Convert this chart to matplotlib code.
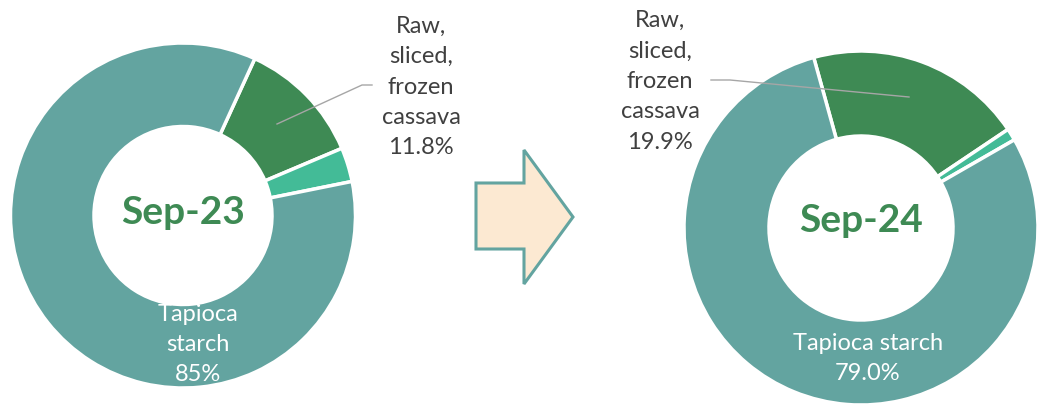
import matplotlib.pyplot as plt
from matplotlib.patches import Polygon

# data
categories = ["Raw, sliced, frozen cassava", "Other", "Tapioca starch"]
share_sep23 = [11.8, 3.2, 85.0]
share_sep24 = [19.9, 1.1, 79.0]
period_labels = ["Sep-23", "Sep-24"]

colors = ["#3E8A54", "#43BB97", "#63A4A0"]
W, H = 1038, 405

plt.rcParams['font.family'] = ['Lato', 'DejaVu Sans']

fig = plt.figure(figsize=(W / 100, H / 100), dpi=100)
ax = fig.add_axes([0, 0, 1, 1])


def donut(values, center, radius, width, start):
    ax.pie(values, colors=colors, center=center, radius=radius,
           startangle=start, counterclock=False,
           wedgeprops=dict(width=width, edgecolor="white", linewidth=2.5))


# left donut (pixel coords, y up)
donut(share_sep23, (183, 189.5), 172.5, 83.5, 65.4)
# right donut
donut(share_sep24, (861, 177), 177, 85, 105.5)

ax.set_xlim(0, W)
ax.set_ylim(0, H)
ax.set_aspect("equal")
ax.axis("off")

# centre titles
ax.text(183, 193, period_labels[0], ha="center", va="center",
        fontsize=28, fontweight="bold", color="#3E8A54")
ax.text(861, 184, period_labels[1], ha="center", va="center",
        fontsize=28, fontweight="bold", color="#3E8A54")

label_kw = dict(ha="center", va="center", fontsize=17, linespacing=1.55)

# Sep-23 labels
ax.text(421, 318, "Raw,\nsliced,\nfrozen\ncassava\n%.1f%%" % share_sep23[0],
        color="#404040", **label_kw)
ax.plot([277, 362, 372], [281, 320, 320], color="#A6A6A6", lw=1)
ax.text(198, 60.5, "Tapioca\nstarch\n%.0f%%" % share_sep23[2],
        color="white", **label_kw)

# Sep-24 labels
ax.text(660, 323.5, "Raw,\nsliced,\nfrozen\ncassava\n%.1f%%" % share_sep24[0],
        color="#404040", **label_kw)
ax.plot([909, 730, 711], [308, 325, 325], color="#A6A6A6", lw=1)
ax.text(868, 46.5, "Tapioca starch\n%.1f%%" % share_sep24[2],
        color="white", **label_kw)

# arrow between the two donuts
arrow_px = [(476, 183), (524, 183), (524, 150), (573, 217),
            (524, 284), (524, 249), (476, 249)]
ax.add_patch(Polygon([(x, H - y) for x, y in arrow_px], closed=True,
                     facecolor="#FCE9D2", edgecolor="#63A4A0", lw=2.2))

fig.savefig("out.png", dpi=100)
